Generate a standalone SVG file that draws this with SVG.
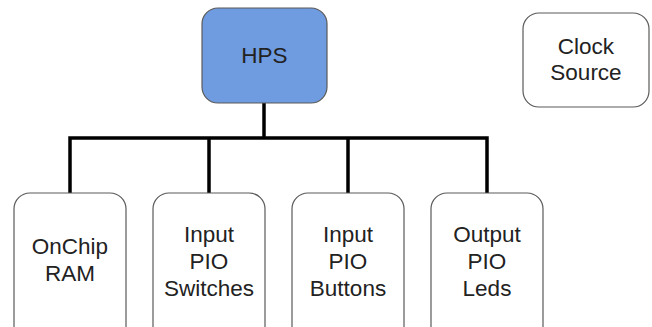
<svg xmlns="http://www.w3.org/2000/svg" width="652" height="327" viewBox="0 0 652 327">
<style>
.box{fill:#fff;stroke:#5a5a5a;stroke-width:1.2}
.hps{fill:#6f9be0}
.t{font-family:"Liberation Sans",Arial,sans-serif;font-size:22.5px;fill:#222;text-anchor:middle}
.c{fill:none;stroke:#000;stroke-width:3.5;stroke-linecap:butt;stroke-linejoin:miter}
</style>
<rect width="652" height="327" fill="#fff"/>
<g id="connectors">
<path class="c" d="M264,103 V138"/>
<path class="c" d="M70,193 V138 H487 V193"/>
<path class="c" d="M209,138 V193"/>
<path class="c" d="M348,138 V193"/>
</g>
<g id="hps">
<rect class="box hps" x="202" y="8" width="125" height="95" rx="16"/>
<text class="t" x="264.5" y="63">HPS</text>
</g>
<g id="clock">
<rect class="box" x="523" y="13" width="126" height="94" rx="16"/>
<text class="t" x="586" y="54">Clock</text>
<text class="t" x="586" y="80">Source</text>
</g>
<g id="onchip">
<rect class="box" x="14" y="193" width="112" height="150" rx="16"/>
<text class="t" x="70" y="254">OnChip</text>
<text class="t" x="70" y="281">RAM</text>
</g>
<g id="switches">
<rect class="box" x="153" y="193" width="112" height="150" rx="16"/>
<text class="t" x="209" y="242">Input</text>
<text class="t" x="209" y="269">PIO</text>
<text class="t" x="209" y="296">Switches</text>
</g>
<g id="buttons">
<rect class="box" x="292" y="193" width="112" height="150" rx="16"/>
<text class="t" x="348" y="242">Input</text>
<text class="t" x="348" y="269">PIO</text>
<text class="t" x="348" y="296">Buttons</text>
</g>
<g id="leds">
<rect class="box" x="431" y="193" width="112" height="150" rx="16"/>
<text class="t" x="487" y="242">Output</text>
<text class="t" x="487" y="269">PIO</text>
<text class="t" x="487" y="296">Leds</text>
</g>
</svg>
